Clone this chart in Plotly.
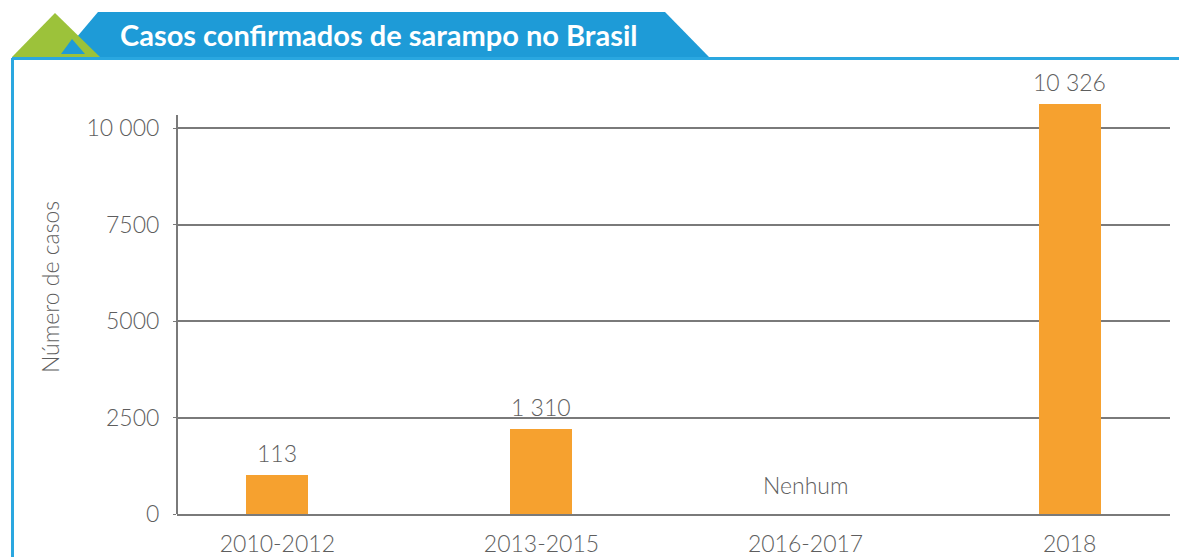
import plotly.graph_objects as go

# ---- data ----
categories = ["2010-2012", "2013-2015", "2016-2017", "2018"]
case_labels = ["113", "1 310", "Nenhum", "10 326"]          # printed values
drawn_heights = [1010, 2200, 0, 10620]                         # bar heights as drawn (not to scale)
tick_values = [0, 2500, 5000, 7500, 10000]
tick_labels = ["0", "2500", "5000", "7500", "10 000"]
axis_top_value = 10337                                         # where the drawn y axis line ends

# the page body has an 8px default margin: work in page pixels, shift into figure pixels
OFF = 8
PAGE_W, PAGE_H = 1187, 557
W, H = PAGE_W - OFF, PAGE_H - OFF
L, R, T, B = 177 - OFF, 1170 - OFF, 60 - OFF, 514 - OFF
Y_MAX = 11762


def px(x):
    return (x - OFF - L) / (R - L)


def py(y):
    return (B - (y - OFF)) / (B - T)


AX_FONT = dict(family="Lato", size=23, color="#5e5e5e", weight=300)
BLUE = "#1e9bd7"
GREEN = "#9cc23a"
ORANGE = "#f6a12f"
GRID = "#7a7a7a"

fig = go.Figure()
fig.add_trace(go.Bar(
    x=categories,
    y=drawn_heights,
    marker=dict(color=ORANGE, line=dict(width=0)),
    width=0.235,
    hoverinfo="skip",
))

annotations = []
for i, (h, lab) in enumerate(zip(drawn_heights, case_labels)):
    annotations.append(dict(
        x=i, y=h, xref="x", yref="y", text=lab, showarrow=False,
        yanchor="bottom", yshift=6 if h > 0 else 13,
        font=AX_FONT,
    ))

# title banner text
annotations.append(dict(
    x=px(379), y=py(35), xref="paper", yref="paper",
    text="<b>Casos confirmados de sarampo no Brasil</b>", showarrow=False,
    xanchor="center", yanchor="middle",
    font=dict(family="Lato", size=29, color="white", weight=700),
))


def path(pts):
    return "M " + " L ".join(f"{px(a)},{py(b)}" for a, b in pts) + " Z"


shapes = [
    # y axis line (ends a little above the top gridline)
    dict(type="line", xref="paper", yref="y", layer="above",
         x0=0, x1=0, y0=0, y1=axis_top_value,
         line=dict(color=GRID, width=2)),
    # banner
    dict(type="path", xref="paper", yref="paper", layer="above",
         path=path([(98, 12), (665, 12), (709, 57), (60, 57)]),
         fillcolor=BLUE, line=dict(width=0)),
    # green triangle
    dict(type="path", xref="paper", yref="paper", layer="above",
         path=path([(55, 13), (12, 57), (100, 57)]),
         fillcolor=GREEN, line=dict(width=0)),
    # inner blue triangle
    dict(type="path", xref="paper", yref="paper", layer="above",
         path=path([(72, 39), (61, 54), (85, 54)]),
         fillcolor=BLUE, line=dict(width=0)),
    # top frame line
    dict(type="line", xref="paper", yref="paper", layer="above",
         x0=px(12), x1=px(PAGE_W), y0=py(58.5), y1=py(58.5),
         line=dict(color="#2aa7e0", width=3)),
    # left frame line
    dict(type="line", xref="paper", yref="paper", layer="above",
         x0=px(12.5), x1=px(12.5), y0=py(58), y1=py(PAGE_H),
         line=dict(color="#2aa7e0", width=3)),
]

fig.update_layout(
    width=W, height=H,
    margin=dict(l=L, r=W - R, t=T, b=H - B, autoexpand=False),
    paper_bgcolor="white", plot_bgcolor="white",
    showlegend=False,
    bargap=0,
    annotations=annotations,
    shapes=shapes,
    xaxis=dict(
        type="category",
        range=[-0.38, 3.38],
        showgrid=False,
        showline=True, linecolor=GRID, linewidth=2,
        ticks="", tickfont=AX_FONT,
        ticklabelstandoff=8,
        zeroline=False,
        automargin=False,
        fixedrange=True,
    ),
    yaxis=dict(
        range=[0, Y_MAX],
        tickvals=tick_values, ticktext=tick_labels,
        showgrid=True, gridcolor=GRID, gridwidth=2,
        showline=False,
        ticks="outside", ticklen=3, tickcolor=GRID, tickwidth=1,
        ticklabelstandoff=9,
        tickfont=AX_FONT,
        zeroline=False,
        automargin=False,
        title=dict(text="Número de casos", font=AX_FONT, standoff=20),
        fixedrange=True,
    ),
)

fig.write_html("out.html")
